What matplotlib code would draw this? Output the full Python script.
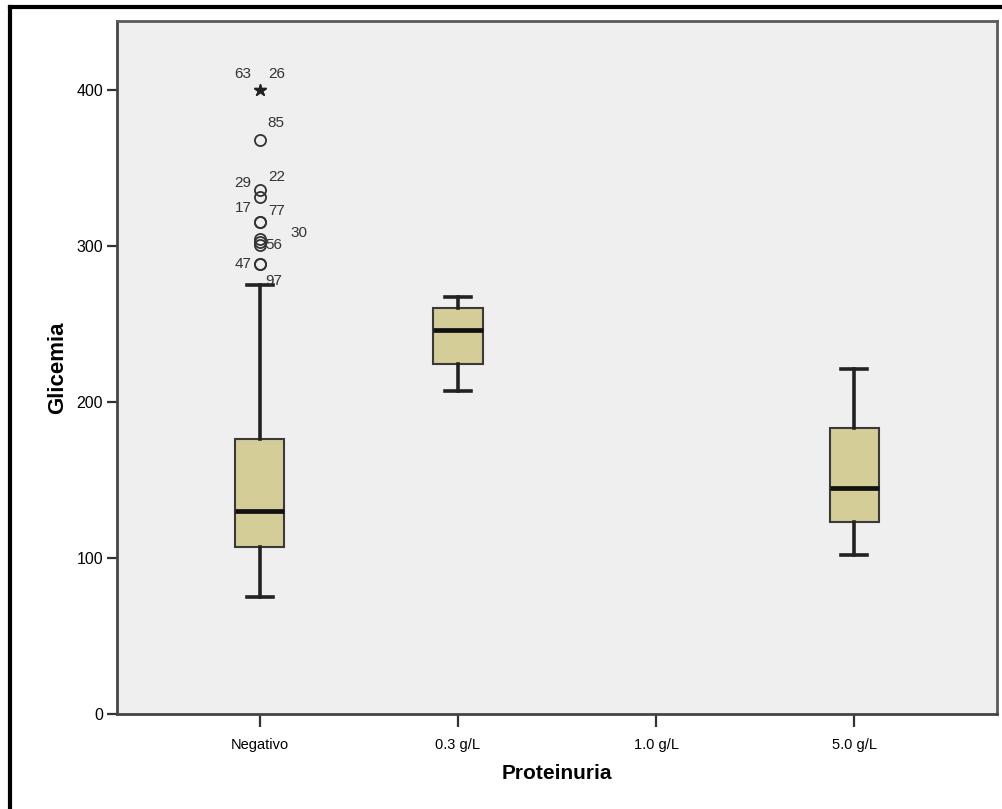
import matplotlib
matplotlib.use("Agg")
import matplotlib.pyplot as plt
from matplotlib.lines import Line2D

plt.rcParams['font.family'] = ['Liberation Sans', 'DejaVu Sans']

# ---- data ----
categories = ["Negativo", "0.3 g/L", "1.0 g/L", "5.0 g/L"]
whislo = [75, 207, None, 102]
q1 = [107, 224, None, 123]
med = [130, 246, None, 145]
q3 = [176, 260, None, 183]
whishi = [275, 267, None, 221]

# outliers (circles) for Negativo
outlier_values = [368, 336, 331, 315, 315, 304.5, 302.5, 300.5, 288, 288]
outlier_labels = ["85", "29", "22", "17", "77", "30", "56", "", "47", "97"]
# extreme values (star) for Negativo
extreme_values = [400, 400]
extreme_labels = ["63", "26"]

ylim_top = 444
yticks = [0, 100, 200, 300, 400]

# label offsets (points) - layout only
outlier_offsets = [(12, 12), (-12, 5), (12, 15), (-12, 10), (12, 8), (28, 4), (10, -2), (0, 0), (-12, 0), (10, -12)]
extreme_offsets = [(-12, 11), (12, 11)]

fig = plt.figure(figsize=(10.03, 8.09), dpi=100)
ax = fig.add_axes([117/1003, 1 - 714/809, (997-117)/1003, (714-21)/809])
ax.set_facecolor('#efefef')

stats = []
positions = []
for i, c in enumerate(categories):
    if med[i] is None:
        continue
    fl = outlier_values if i == 0 else []
    stats.append(dict(label=c, whislo=whislo[i], q1=q1[i], med=med[i], q3=q3[i],
                      whishi=whishi[i], fliers=fl))
    positions.append(i)

ax.bxp(stats, positions=positions, widths=0.25, patch_artist=True, showfliers=True,
       boxprops=dict(facecolor='#d4cd98', edgecolor='#3a3a3a', linewidth=1.5),
       medianprops=dict(color='#111111', linewidth=3.4),
       whiskerprops=dict(color='#222222', linewidth=2.6),
       capprops=dict(color='#222222', linewidth=2.6),
       capwidths=0.13,
       flierprops=dict(marker='o', markerfacecolor='none', markeredgecolor='#333333',
                       markersize=8, markeredgewidth=1.3))

ax.plot([0] * len(extreme_values), extreme_values, linestyle='none', marker='*',
        color='#222222', markersize=9)

for v, lab, off in zip(outlier_values, outlier_labels, outlier_offsets):
    if lab:
        ax.annotate(lab, (0, v), xytext=off, textcoords='offset points',
                    ha='center', va='center', fontsize=11, color='#333333')
for v, lab, off in zip(extreme_values, extreme_labels, extreme_offsets):
    ax.annotate(lab, (0, v), xytext=off, textcoords='offset points',
                ha='center', va='center', fontsize=11, color='#333333')

ax.set_xlim(-0.72, 3.72)
ax.set_ylim(0, ylim_top)
ax.set_xticks(range(len(categories)))
ax.set_xticklabels(categories, fontsize=10.5)
ax.set_yticks(yticks)
ax.set_yticklabels([str(t) for t in yticks], fontsize=11.5)

for s in ax.spines.values():
    s.set_color('#5a5a5a')
    s.set_linewidth(2)
ax.spines['left'].set_color('#444444')
ax.spines['bottom'].set_color('#444444')
ax.tick_params(axis='y', length=7, width=1.6, color='#333333', pad=3)
ax.tick_params(axis='x', length=9, width=1.6, color='#333333', pad=8)

ax.set_xlabel("Proteinuria", fontsize=15, fontweight='bold', labelpad=9)
ax.set_ylabel("Glicemia", fontsize=16, fontweight='bold', labelpad=6)

# outer frame (left & top black lines)
fig.add_artist(Line2D([10/1003, 10/1003], [0, 1 - 7/809], transform=fig.transFigure,
                      color='black', linewidth=3))
fig.add_artist(Line2D([10/1003, 1], [1 - 7/809, 1 - 7/809], transform=fig.transFigure,
                      color='black', linewidth=3))

fig.savefig("out.png", dpi=100)
